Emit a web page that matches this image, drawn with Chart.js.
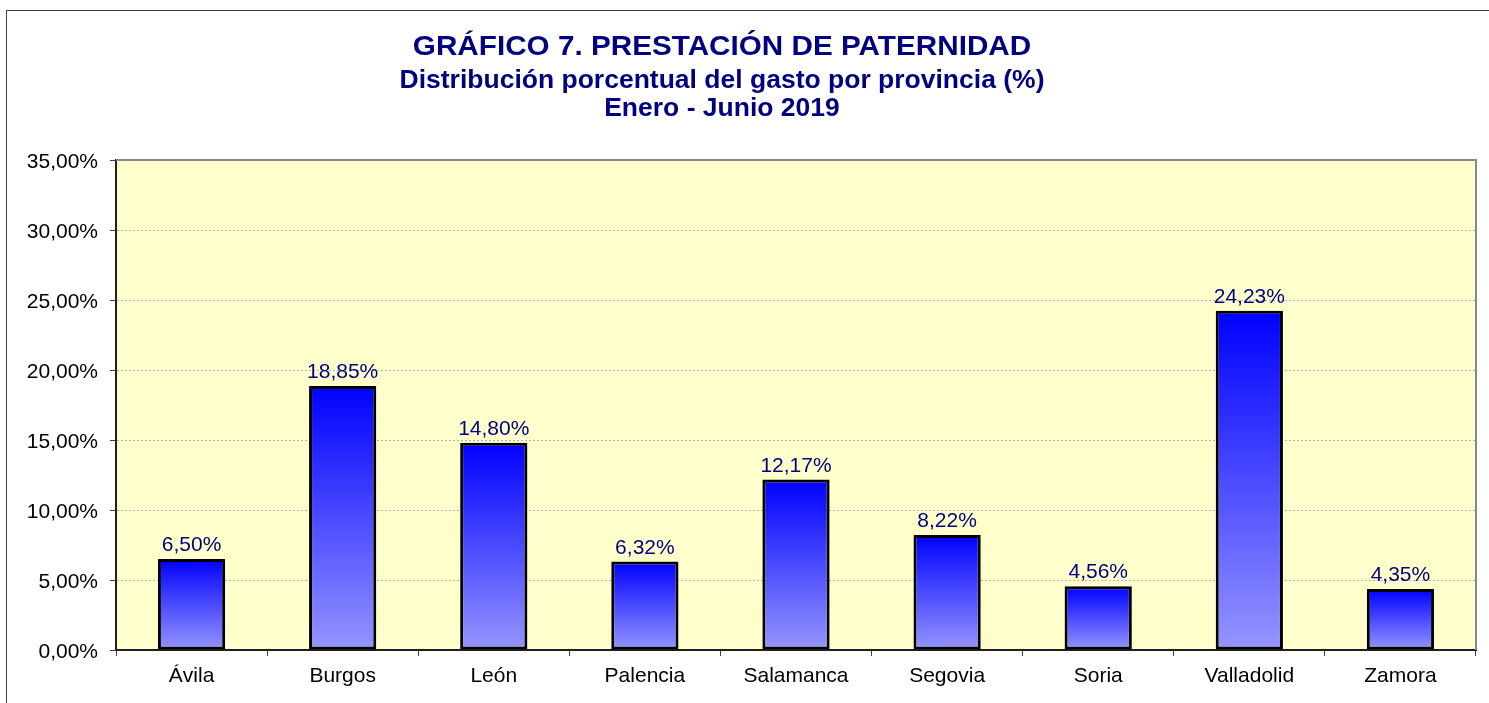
<!DOCTYPE html>
<html>
<head>
<meta charset="utf-8">
<script src="https://cdn.jsdelivr.net/npm/chart.js@4.4.1/dist/chart.umd.min.js"></script>
<style>
  html, body { margin: 0; padding: 0; background: #fff; }
  #wrap { width: 1489px; height: 703px; }
</style>
</head>
<body>
<div id="wrap"><canvas id="chart" width="1489" height="703"></canvas></div>
<script>
const provincias = ['Ávila', 'Burgos', 'León', 'Palencia', 'Salamanca', 'Segovia', 'Soria', 'Valladolid', 'Zamora'];
const gasto = [6.50, 18.85, 14.80, 6.32, 12.17, 8.22, 4.56, 24.23, 4.35];
const tituloLineas = ['GRÁFICO 7. PRESTACIÓN DE PATERNIDAD'];
const subtituloLineas = ['Distribución porcentual del gasto por provincia (%)', 'Enero - Junio 2019'];

const navy = '#000080';
const fuente = '"Liberation Sans", Arial, sans-serif';
const fmt = v => v.toFixed(2).replace('.', ',') + '%';

// marco exterior, fondo del area de trazado y titulos
const fondo = {
  id: 'fondo',
  beforeDraw(chart) {
    const { ctx, chartArea: a } = chart;
    ctx.save();
    ctx.fillStyle = '#ffffcc';
    ctx.fillRect(a.left, a.top, a.right - a.left, a.bottom - a.top);
    ctx.strokeStyle = '#404040';
    ctx.lineWidth = 1;
    ctx.strokeRect(6.5, 10.5, chart.width + 20, chart.height + 20);

    // titulos (texto algo ensanchado como en el original)
    const cx = 722;
    ctx.fillStyle = navy;
    ctx.textAlign = 'center';
    ctx.textBaseline = 'middle';
    const linea = (txt, size, y) => {
      ctx.save();
      ctx.translate(cx, y);
      ctx.scale(1.06, 1);
      ctx.font = 'bold ' + size + 'px ' + fuente;
      ctx.fillText(txt, 0, 0);
      ctx.restore();
    };
    tituloLineas.forEach((t, i) => linea(t, 28, 47 + i * 30));
    subtituloLineas.forEach((t, i) => linea(t, 25, 81 + i * 28));
    ctx.restore();
  },
  afterDatasetsDraw(chart) {
    const { ctx, chartArea: a } = chart;
    ctx.save();
    ctx.strokeStyle = '#888888';
    ctx.lineWidth = 2;
    ctx.beginPath();
    ctx.moveTo(a.left, a.top);
    ctx.lineTo(a.right, a.top);
    ctx.lineTo(a.right, a.bottom);
    ctx.stroke();
    ctx.restore();
  }
};

// etiquetas de valor encima de cada barra
const etiquetas = {
  id: 'etiquetas',
  afterDatasetsDraw(chart) {
    const { ctx } = chart;
    const meta = chart.getDatasetMeta(0);
    ctx.save();
    ctx.font = '21px ' + fuente;
    ctx.fillStyle = navy;
    ctx.textAlign = 'center';
    ctx.textBaseline = 'bottom';
    meta.data.forEach((bar, i) => {
      ctx.fillText(fmt(gasto[i]), bar.x, bar.y - 3);
    });
    ctx.restore();
  }
};

function degradado(context) {
  const chart = context.chart;
  const y = chart.scales.y;
  if (!y || context.raw == null) return '#6060ff';
  const top = y.getPixelForValue(context.raw);
  const bottom = y.getPixelForValue(0);
  if (!isFinite(top) || !isFinite(bottom) || top === bottom) return '#6060ff';
  const g = chart.ctx.createLinearGradient(0, top, 0, bottom);
  g.addColorStop(0, '#0000ff');
  g.addColorStop(1, '#9595ff');
  return g;
}

new Chart(document.getElementById('chart'), {
  type: 'bar',
  data: {
    labels: provincias,
    datasets: [{
      data: gasto,
      backgroundColor: degradado,
      borderColor: '#000000',
      borderWidth: 3,
      borderSkipped: false,
      categoryPercentage: 1,
      barPercentage: 0.445
    }]
  },
  options: {
    responsive: false,
    animation: false,
    layout: { padding: { left: 10, right: 13, top: 160, bottom: 0 } },
    plugins: {
      legend: { display: false },
      tooltip: { enabled: false },
      title: { display: false }
    },
    scales: {
      x: {
        grid: { offset: true, drawOnChartArea: false, tickLength: 6, tickColor: '#404040', lineWidth: 1 },
        border: { color: '#202020', width: 2 },
        ticks: { color: '#000', padding: 8, font: { family: fuente, size: 21 } },
        afterFit(scale) { scale.height = 53; }
      },
      y: {
        min: 0,
        max: 35,
        ticks: {
          stepSize: 5,
          color: '#000',
          padding: 12,
          labelOffset: 2,
          font: { family: fuente, size: 21 },
          callback: v => fmt(v)
        },
        grid: { color: '#b0b0c0', tickColor: '#404040', tickLength: 6, lineWidth: 1 },
        border: { color: '#202020', width: 2, dash: [2, 2] },
        afterFit(scale) { scale.width = 106; }
      }
    }
  },
  plugins: [fondo, etiquetas]
});
</script>
</body>
</html>
